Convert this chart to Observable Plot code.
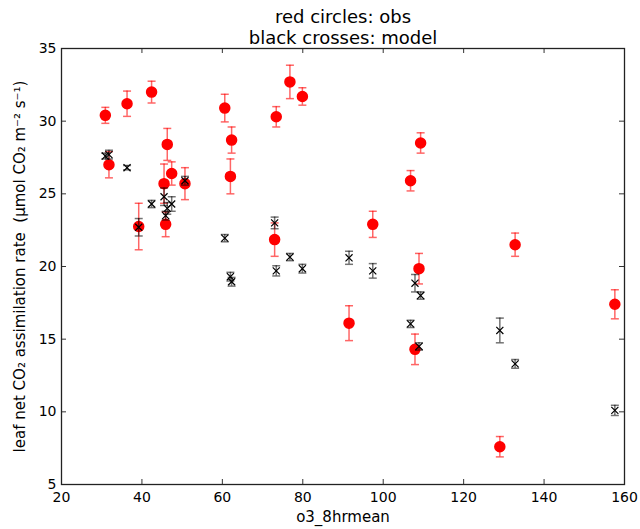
<!DOCTYPE html>
<html><head><meta charset="utf-8">
<script src="https://cdn.jsdelivr.net/npm/d3@7"></script>
<script src="https://cdn.jsdelivr.net/npm/@observablehq/plot@0.6"></script>
<style>body{margin:0;background:#fff} svg{display:block}</style>
</head><body><div id="chart"></div>
<script>
const xTicks = [20, 40, 60, 80, 100, 120, 140, 160];
const yTicks = [5, 10, 15, 20, 25, 30, 35];

const obsX   = [30.9, 31.8, 36.3, 39.2, 42.4, 45.5, 45.9, 46.3, 47.4, 50.7, 60.6, 62.0, 62.3, 73.0, 73.4, 76.8, 79.9, 91.5, 97.4, 106.8, 107.9, 108.9, 109.3, 129.0, 132.8, 157.6];
const obsY   = [30.4, 27.0, 31.2, 22.75, 32.0, 25.7, 22.9, 28.4, 26.4, 25.7, 30.9, 26.2, 28.7, 21.85, 30.3, 32.7, 31.7, 16.1, 22.9, 25.9, 14.3, 19.85, 28.5, 7.6, 21.5, 17.4];
const obsErr = [0.55, 0.9, 0.87, 1.6, 0.75, 1.35, 0.85, 1.1, 0.8, 1.1, 0.95, 1.2, 0.9, 1.15, 0.7, 1.15, 0.6, 1.2, 0.9, 0.7, 1.05, 1.05, 0.7, 0.7, 0.8, 1.0];

const modX   = [30.9, 31.8, 36.3, 39.2, 42.4, 45.5, 45.9, 46.3, 47.4, 50.7, 60.6, 62.0, 62.3, 73.0, 73.4, 76.8, 79.9, 91.5, 97.4, 106.8, 107.9, 108.9, 109.3, 129.0, 132.8, 157.6];
const modY   = [27.6, 27.7, 26.8, 22.7, 24.3, 24.8, 23.5, 24.0, 24.3, 25.9, 21.95, 19.3, 18.95, 23.0, 19.7, 20.65, 19.85, 20.6, 19.7, 16.05, 18.85, 14.5, 18.0, 15.6, 13.3, 10.1];
const modErr = [0.2, 0.3, 0.15, 0.6, 0.25, 0.6, 0.3, 0.4, 0.5, 0.3, 0.25, 0.3, 0.3, 0.4, 0.35, 0.25, 0.3, 0.45, 0.5, 0.25, 0.6, 0.25, 0.25, 0.85, 0.3, 0.35];

const titleText = "red circles: obs\nblack crosses: model";
const xLabel = "o3_8hrmean";
const yLabel = "leaf net CO\u2082 assimilation rate  (\u03bcmol CO\u2082 m\u207b\u00b2 s\u207b\u00b9)";

const obs = obsX.map((x, i) => ({x, y: obsY[i], e: obsErr[i]}));
const mod = modX.map((x, i) => ({x, y: modY[i], e: modErr[i]}));

const cap = {draw(ctx, size) { const w = Math.sqrt(size / Math.PI); ctx.moveTo(-w, 0); ctx.lineTo(w, 0); }};

function errorMarks(data, color, opacity) {
  return [
    Plot.ruleX(data, {x: "x", y1: d => d.y - d.e, y2: d => d.y + d.e, stroke: color, strokeOpacity: opacity, strokeWidth: 1.5}),
    Plot.dot(data, {x: "x", y: d => d.y + d.e, symbol: cap, r: 4, stroke: color, strokeOpacity: opacity, fill: "none", strokeWidth: 1.5}),
    Plot.dot(data, {x: "x", y: d => d.y - d.e, symbol: cap, r: 4, stroke: color, strokeOpacity: opacity, fill: "none", strokeWidth: 1.5})
  ];
}

const chart = Plot.plot({
  width: 640, height: 529,
  marginLeft: 61, marginRight: 16, marginTop: 48, marginBottom: 45,
  x: {domain: [20, 160]},
  y: {domain: [5, 35]},
  style: {fontFamily: "DejaVu Sans", fontSize: "14px", color: "#000", background: "#fff"},
  marks: [
    Plot.axisX({ticks: xTicks, tickSize: 0, tickPadding: 8, label: null, fontSize: 14}),
    Plot.axisY({ticks: yTicks, tickSize: 0, tickPadding: 5, label: null, fontSize: 14}),
    Plot.tickX(xTicks, {x: d => d, insetTop: 431, stroke: "#333"}),
    Plot.tickX(xTicks, {x: d => d, insetBottom: 431, stroke: "#333"}),
    Plot.tickY(yTicks, {y: d => d, insetRight: 558, stroke: "#333"}),
    Plot.tickY(yTicks, {y: d => d, insetLeft: 558, stroke: "#333"}),
    ...errorMarks(obs, "red", 0.6),
    Plot.dot(obs, {x: "x", y: "y", r: 5, fill: "red", stroke: "red"}),
    ...errorMarks(mod, "black", 0.55),
    Plot.dot(mod, {x: "x", y: "y", symbol: "times", r: 3.3, stroke: "black", strokeWidth: 1.2}),
    Plot.frame({stroke: "#222", strokeWidth: 1.3}),
    Plot.text([titleText], {frameAnchor: "top", lineAnchor: "bottom", dy: -5, fontSize: 18, lineHeight: 1.15}),
    Plot.text([xLabel], {frameAnchor: "bottom", dy: 37, fontSize: 15}),
    Plot.text([yLabel], {frameAnchor: "left", textAnchor: "middle", rotate: -90, dx: -41, fontSize: 15})
  ]
});
document.getElementById("chart").appendChild(chart);
</script>
</body></html>
